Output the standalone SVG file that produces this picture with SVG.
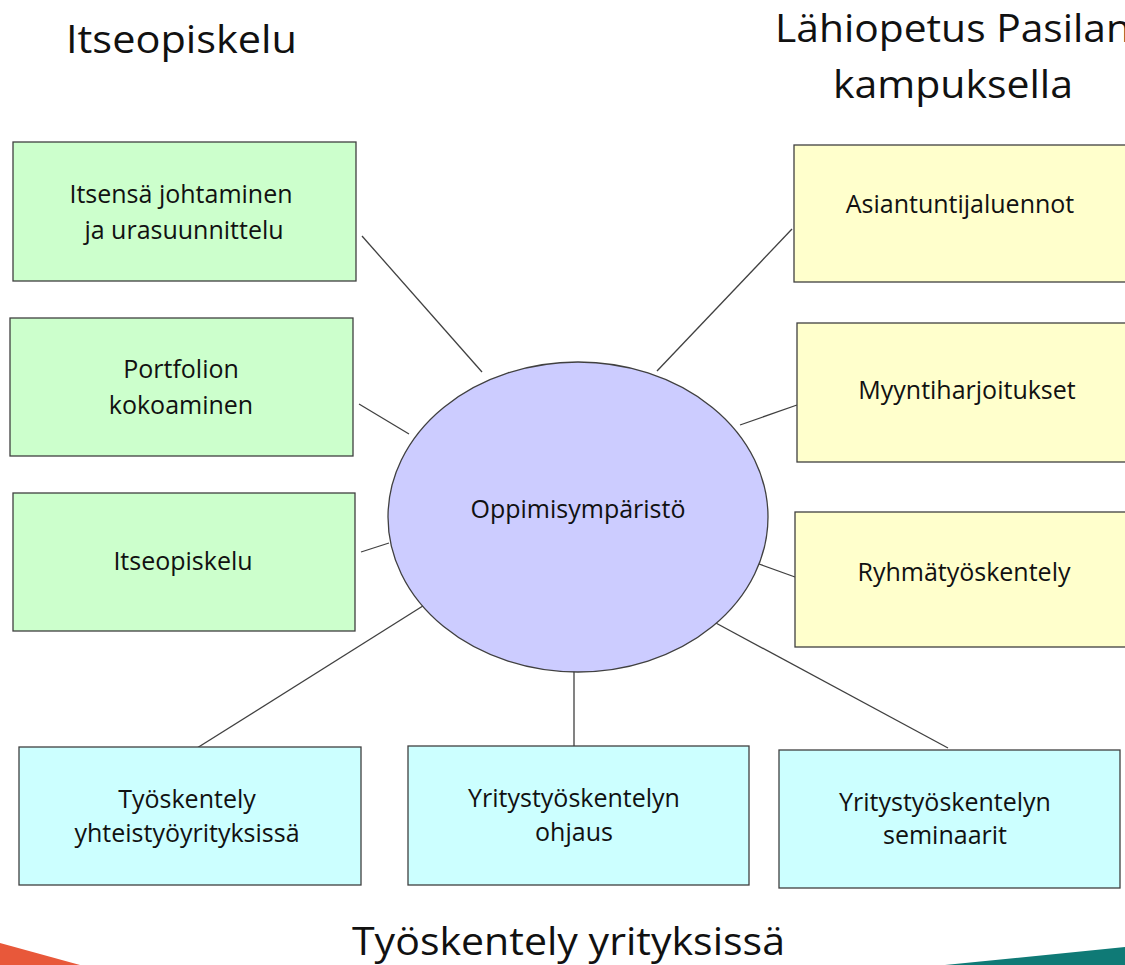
<svg xmlns="http://www.w3.org/2000/svg" width="1125" height="965" viewBox="0 0 1125 965">
<style>
.box{stroke:#404040;stroke-width:1.3}
.g{fill:#ccffcc}.y{fill:#ffffcc}.c{fill:#ccffff}
.t{font-family:"Open Sans","Liberation Sans",sans-serif;font-size:25px;fill:#111;text-anchor:middle}
.h{font-family:"Open Sans","Liberation Sans",sans-serif;font-size:39px;fill:#111}
.ln{stroke:#404040;stroke-width:1.3;fill:none}
</style>
<rect width="1125" height="965" fill="#fff"/>
<polygon points="0,943 80,965 0,965" fill="#e8583a"/>
<polygon points="945,965 1125,947 1125,965" fill="#0f7a76"/>
<text class="h" x="66" y="53" textLength="231" lengthAdjust="spacingAndGlyphs">Itseopiskelu</text>
<text class="h" x="775" y="42" textLength="356" lengthAdjust="spacingAndGlyphs">Lähiopetus Pasilan</text>
<text class="h" x="833" y="98" textLength="240" lengthAdjust="spacingAndGlyphs">kampuksella</text>
<text class="h" x="352" y="955" textLength="433" lengthAdjust="spacingAndGlyphs">Työskentely yrityksissä</text>
<g id="connectors">
<line class="ln" x1="362" y1="236" x2="482" y2="372"/>
<line class="ln" x1="359" y1="404" x2="409" y2="434"/>
<line class="ln" x1="361" y1="552" x2="389" y2="543"/>
<line class="ln" x1="197" y1="748" x2="426" y2="604"/>
<line class="ln" x1="574" y1="746" x2="574" y2="666"/>
<line class="ln" x1="948" y1="748" x2="714" y2="622"/>
<line class="ln" x1="795" y1="577" x2="759" y2="564"/>
<line class="ln" x1="797" y1="405" x2="740" y2="425"/>
<line class="ln" x1="792" y1="229" x2="657" y2="371"/>
</g>
<g id="center">
<ellipse class="box" cx="578" cy="517" rx="190" ry="155" fill="#ccccff"/>
<text class="t" x="578" y="518">Oppimisympäristö</text>
</g>
<g id="n1"><rect class="box g" x="13" y="142" width="343" height="139"/>
<text class="t" x="181" y="203">Itsensä johtaminen</text><text class="t" x="184" y="239">ja urasuunnittelu</text></g>
<g id="n2"><rect class="box g" x="10" y="318" width="343" height="138"/>
<text class="t" x="181" y="378">Portfolion</text><text class="t" x="181" y="414">kokoaminen</text></g>
<g id="n3"><rect class="box g" x="13" y="493" width="342" height="138"/>
<text class="t" x="183" y="570">Itseopiskelu</text></g>
<g id="n4"><rect class="box y" x="794" y="145" width="340" height="137"/>
<text class="t" x="960" y="213">Asiantuntijaluennot</text></g>
<g id="n5"><rect class="box y" x="797" y="323" width="340" height="139"/>
<text class="t" x="967" y="399">Myyntiharjoitukset</text></g>
<g id="n6"><rect class="box y" x="795" y="512" width="340" height="135"/>
<text class="t" x="964" y="581">Ryhmätyöskentely</text></g>
<g id="n7"><rect class="box c" x="19" y="747" width="342" height="138"/>
<text class="t" x="187" y="808">Työskentely</text><text class="t" x="187" y="842">yhteistyöyrityksissä</text></g>
<g id="n8"><rect class="box c" x="408" y="746" width="341" height="139"/>
<text class="t" x="574" y="807">Yritystyöskentelyn</text><text class="t" x="574" y="841">ohjaus</text></g>
<g id="n9"><rect class="box c" x="779" y="750" width="341" height="138"/>
<text class="t" x="945" y="811">Yritystyöskentelyn</text><text class="t" x="945" y="844">seminaarit</text></g>
</svg>
